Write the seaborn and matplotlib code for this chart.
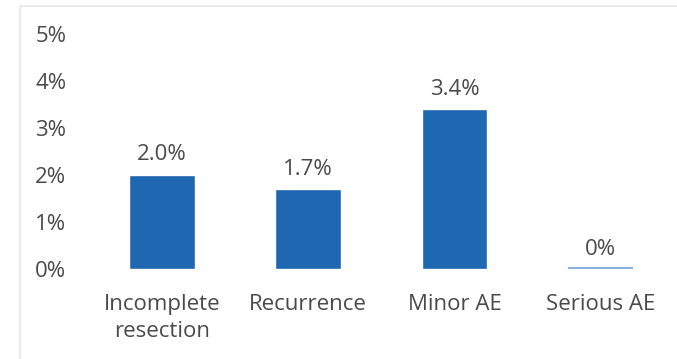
import numpy as np
import pandas as pd
import matplotlib.pyplot as plt
import matplotlib.lines as mlines
import seaborn as sns

categories = ["Incomplete\nresection", "Recurrence", "Minor AE", "Serious AE"]
rates = [2.0, 1.7, 3.4, 0.0]
value_labels = ["2.0%", "1.7%", "3.4%", "0%"]
y_ticks = [0, 1, 2, 3, 4, 5]

df = pd.DataFrame({"category": categories, "rate": rates})

sns.set_style("white")
plt.rcParams["font.family"] = ["Open Sans", "DejaVu Sans"]

fig = plt.figure(figsize=(6.77, 3.59), dpi=100)
ax = fig.add_axes([0.11, 0.25, 0.885, 0.655])

sns.barplot(data=df, x="category", y="rate", color="#1f67b1", width=0.45,
            saturation=1, ax=ax)

# zero bar shows as a thin light-blue line
ax.patches[3].set_edgecolor("#86b4dc")
ax.patches[3].set_linewidth(3)

ax.bar_label(ax.containers[0], labels=value_labels, padding=7,
             fontsize=16, color="#4a4a4a")

ax.set_ylim(0, 5)
ax.set_xlim(-0.6, 3.5)
ax.set_yticks(y_ticks)
ax.set_yticklabels([f"{t}%" for t in y_ticks])
ax.set_xlabel("")
ax.set_ylabel("")
ax.tick_params(axis="y", labelsize=16, colors="#4a4a4a", length=0, pad=6)
ax.tick_params(axis="x", labelsize=16, colors="#4a4a4a", length=0, pad=18)
for lbl in ax.get_xticklabels():
    lbl.set_linespacing(1.35)
sns.despine(ax=ax, left=True, bottom=True)

# faint frame of the original screenshot
fig.add_artist(mlines.Line2D([0.03, 0.03], [0.0, 0.983], color="#e6e6e6", lw=1.2))
fig.add_artist(mlines.Line2D([0.03, 1.0], [0.983, 0.983], color="#e6e6e6", lw=1.2))

fig.savefig("out.png", dpi=100)
